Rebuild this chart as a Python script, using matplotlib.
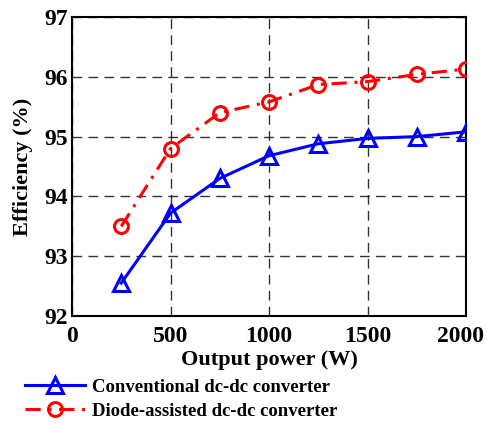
import matplotlib.pyplot as plt
import matplotlib.transforms as mtransforms
import numpy as np

plt.rcParams['font.family'] = ['Liberation Serif', 'DejaVu Serif']
plt.rcParams['font.weight'] = 'bold'

power = [250, 500, 750, 1000, 1250, 1500, 1750, 2000]
conventional = [92.55, 93.72, 94.30, 94.68, 94.88, 94.97, 95.00, 95.08]
diode = [93.50, 94.80, 95.40, 95.58, 95.87, 95.92, 96.04, 96.13]

xticks = [0, 500, 1000, 1500, 2000]
yticks = [92, 93, 94, 95, 96, 97]

fig = plt.figure(figsize=(4.87, 4.26), dpi=100)
ax = fig.add_axes([72/487, 1 - 316/426, 394/487, 299/426])

ax.plot(power, conventional, color="blue", lw=2.2, marker="^", ms=12,
        mfc="none", mec="blue", mew=2.2, label="Conventional dc-dc converter",
        zorder=3)
ax.plot(power, diode, color="red", lw=2.2, ls=(0, (5, 2.5, 1, 2.5)),
        marker="o", ms=10, mfc="none", mec="red", mew=2.2,
        label="Diode-assisted dc-dc converter", zorder=3)

ax.set_xlim(0, 2000)
ax.set_ylim(92, 97)
ax.set_xticks(xticks)
ax.set_yticks(yticks)
ax.grid(True, color="black", ls=(0, (7, 4.5)), lw=1, alpha=0.8)
ax.tick_params(direction="in", length=0, labelsize=17)
ax.tick_params(axis="y", pad=3)
ax.tick_params(axis="x", pad=7)
for lab in ax.get_xticklabels() + ax.get_yticklabels():
    lab.set_fontweight("bold")
# nudge the last x label left so it stays inside the canvas
last = ax.get_xticklabels()[-1]
last.set_transform(last.get_transform() +
                   mtransforms.ScaledTranslation(-5/100, 0, fig.dpi_scale_trans))
for s in ax.spines.values():
    s.set_linewidth(1.5)

ax.set_xlabel("Output power (W)", fontsize=16, fontweight="bold", labelpad=2)
ax.set_ylabel("Efficiency (%)", fontsize=16, fontweight="bold", labelpad=8)

leg = fig.legend(loc="lower left", bbox_to_anchor=(0.02, -0.02), frameon=False,
                 handlelength=3.2, borderpad=0.3,
                 labelspacing=0.35, handletextpad=0.4,
                 prop={"weight": "bold", "size": 13.5})

fig.savefig("out.png", dpi=100)
